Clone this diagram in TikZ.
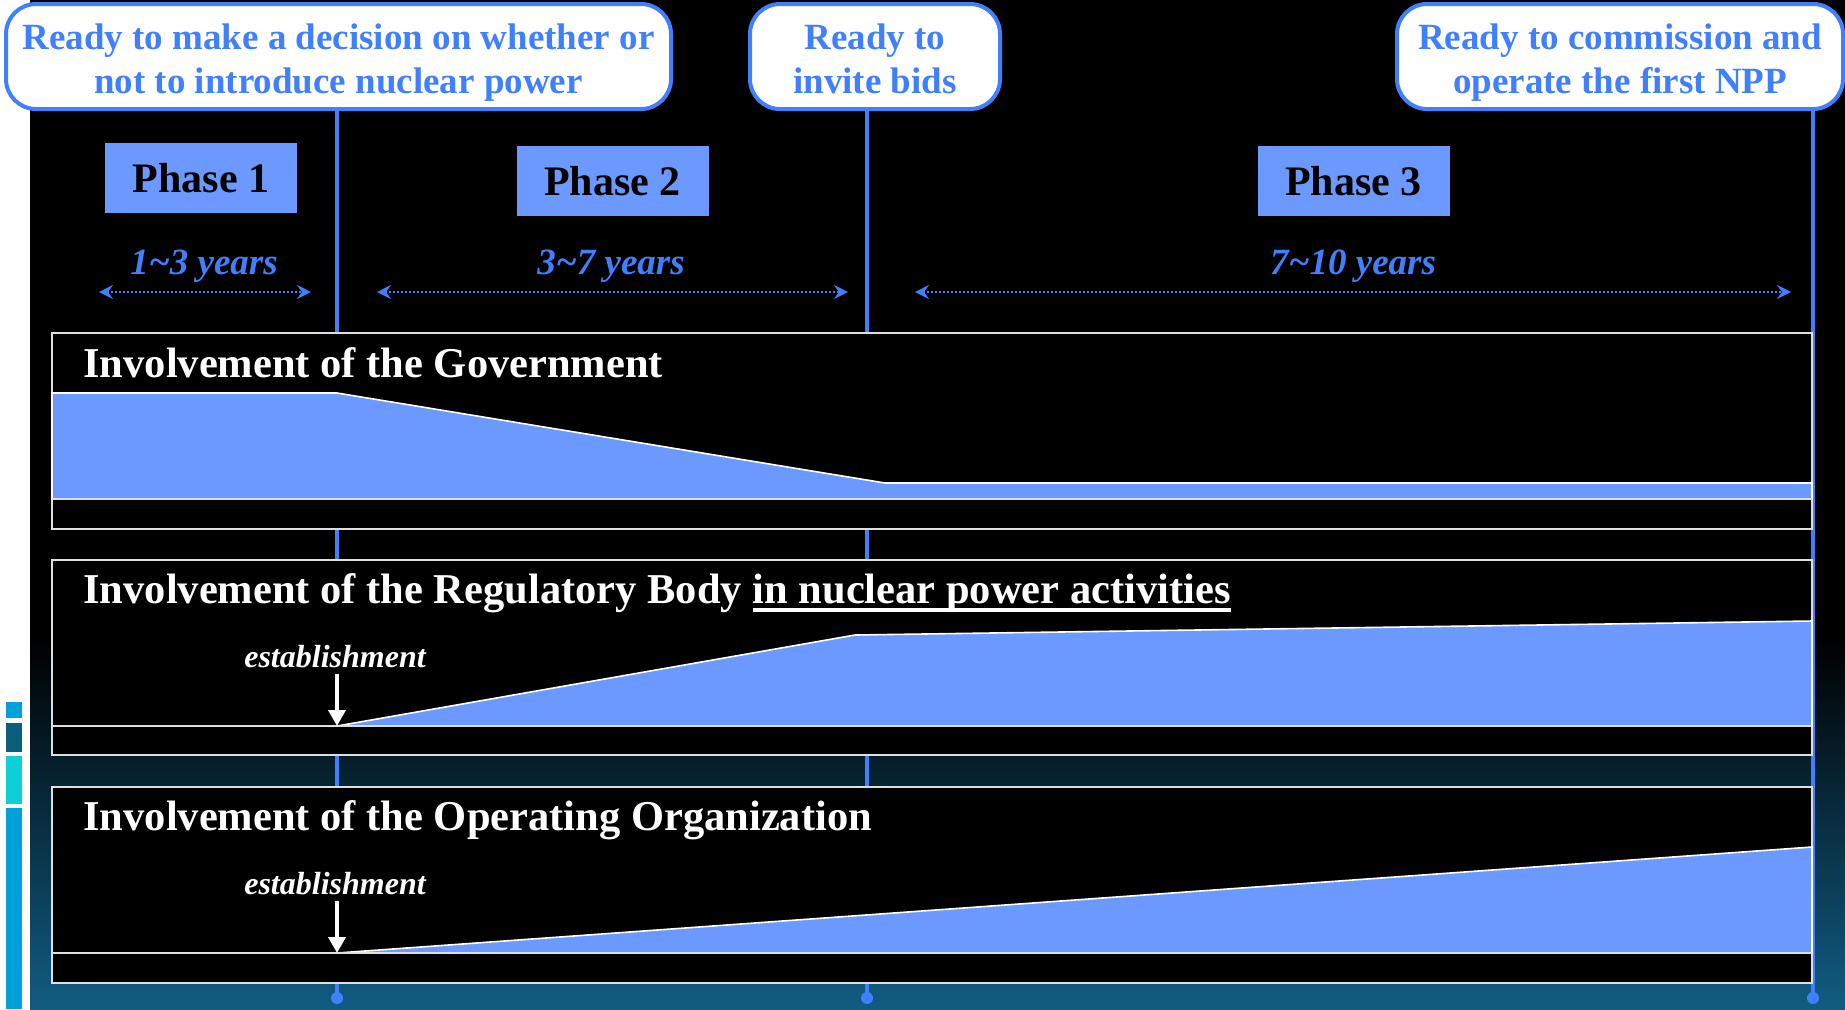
\documentclass[tikz,border=0pt]{standalone}
\usepackage{fontspec}
\setmainfont{Liberation Serif}
\usepackage{tikz}
\usetikzlibrary{positioning, arrows.meta, calc}

\definecolor{mileblue}{RGB}{64,128,255}
\definecolor{sharefill}{RGB}{108,153,255}
\definecolor{panelgray}{RGB}{222,222,222}
\definecolor{bgteal}{RGB}{17,92,130}
\definecolor{barblue}{RGB}{0,160,218}
\definecolor{barteal}{RGB}{11,95,122}
\definecolor{barcyan}{RGB}{12,208,216}

% thick underline under part of a title
\newcommand{\thickul}[1]{\setbox0\hbox{#1}\rlap{\rule[-4.5pt]{\wd0}{2pt}}\box0}
% two lines of a milestone, with struts so every box sets its text alike
\newcommand{\milestonetext}[2]{\rule{0pt}{18.5pt}#1\\#2\rule[-4pt]{0pt}{4pt}}

\begin{document}
\begin{tikzpicture}[x=0.5pt, y=-0.5pt,
	milestone/.style={draw=mileblue, line width=2pt, fill=white, rounded corners=15pt,
		text=mileblue, align=center, inner sep=0pt,
		font=\fontsize{18.5}{22}\selectfont\bfseries},
	mileline/.style={draw=mileblue, line width=2.4pt},
	phasebox/.style={fill=sharefill, minimum width=96pt, minimum height=35pt, inner sep=0pt,
		font=\fontsize{21}{25}\selectfont\bfseries},
	yearlabel/.style={text=mileblue, inner sep=0pt, font=\fontsize{18.5}{22}\selectfont\bfseries\itshape},
	span/.style={draw=mileblue, line width=1pt, dash pattern=on 1pt off 1pt,
		{Stealth[length=7pt,width=7pt,inset=2.5pt]}-{Stealth[length=7pt,width=7pt,inset=2.5pt]}},
	panel/.style={draw=panelgray, line width=1pt},
	share/.style={fill=sharefill, draw=white, line width=0.8pt},
	paneltitle/.style={anchor=base west, inner sep=0pt, text=white,
		font=\fontsize{21.25}{25}\selectfont\bfseries},
	estlabel/.style={anchor=base, inner sep=3pt, text=white,
		font=\fontsize{16}{19}\selectfont\bfseries\itshape},
	estarrow/.style={draw=white, line width=1.8pt, -{Triangle[length=8pt,width=8.5pt]}}]

	\useasboundingbox (0,0) rectangle (1845,1009);

	% background and side bars
	\fill[white] (0,0) rectangle (1845,1009);
	\fill[black] (30,0) rectangle (1845,640);
	\shade[top color=black, bottom color=bgteal] (30,639) rectangle (1845,1009);
	\fill[barblue] (6,702) rectangle (22,718);
	\fill[barteal] (6,723) rectangle (22,752);
	\fill[barcyan] (6,756) rectangle (22,804);
	\fill[barblue] (6,808) rectangle (22,1009);

	% milestones
	\node[milestone, minimum width=332.5pt, minimum height=52.5pt] (decide) at (338.5,56.5)
		{\milestonetext{Ready to make a decision on whether or}{not to introduce nuclear power}};
	\node[milestone, minimum width=125pt, minimum height=52.5pt] (bids) at (875,56.5)
		{\milestonetext{Ready to}{invite bids}};
	\node[milestone, minimum width=223pt, minimum height=52.5pt] (npp) at (1620,56.5)
		{\milestonetext{Ready to commission and}{operate the first NPP}};

	\coordinate (end1) at (337,998);
	\coordinate (end2) at (867,998);
	\coordinate (end3) at (1813,998);
	\draw[mileline] (decide.south -| end1) -- (end1);
	\draw[mileline] (bids.south -| end2) -- (end2);
	\draw[mileline] (npp.south -| end3) -- (end3);
	\fill[mileblue] (end1) circle (3pt);
	\fill[mileblue] (end2) circle (3pt);
	\fill[mileblue] (end3) circle (3pt);

	% phases
	\node[phasebox] (ph1) at (201,178) {Phase 1};
	\node[phasebox] (ph2) at (612.5,181) {Phase 2};
	\node[phasebox] (ph3) at (1353.5,181) {Phase 3};

	% durations
	\coordinate (s1l) at (99,292);   \coordinate (s1r) at (311,292);
	\coordinate (s2l) at (377,292);  \coordinate (s2r) at (848,292);
	\coordinate (s3l) at (915,292);  \coordinate (s3r) at (1791,292);
	\draw[span] (s1l) -- (s1r);
	\draw[span] (s2l) -- (s2r);
	\draw[span] (s3l) -- (s3r);
	\node[yearlabel] (y1) at (204,266) {1\textasciitilde3 years};
	\node[yearlabel] (y2) at (611,266) {3\textasciitilde7 years};
	\node[yearlabel] (y3) at (1353,266) {7\textasciitilde10 years};

	% government
	\filldraw[panel, fill=black] (52,333) rectangle (1812,529);
	\filldraw[share] (52,499) -- (52,393) -- (337,393) -- (885,483) -- (1812,483) -- (1812,499) -- cycle;
	\draw[panel] (52,499) -- (1812,499);
	\node[paneltitle] (gov) at (83,377) {Involvement of the Government};

	% regulatory body
	\filldraw[panel, fill=black] (52,560) rectangle (1812,755);
	\coordinate (reg0) at (337,726);
	\filldraw[share] (reg0) -- (855,635) -- (1812,621) -- (1812,726) -- cycle;
	\draw[panel] (52,726) -- (1812,726);
	\node[paneltitle] (reg) at (83,603)
		{Involvement of the Regulatory Body \thickul{in nuclear power activities}};
	\node[estlabel] (est1) at (335,667) {establishment};
	\draw[estarrow] (est1.south -| reg0) -- (reg0);

	% operating organization
	\filldraw[panel, fill=black] (52,787) rectangle (1812,983);
	\coordinate (op0) at (337,953);
	\filldraw[share] (op0) -- (1812,847) -- (1812,953) -- cycle;
	\draw[panel] (52,953) -- (1812,953);
	\node[paneltitle] (op) at (83,830) {Involvement of the Operating Organization};
	\node[estlabel] (est2) at (335,894) {establishment};
	\draw[estarrow] (est2.south -| op0) -- (op0);
\end{tikzpicture}
\end{document}
